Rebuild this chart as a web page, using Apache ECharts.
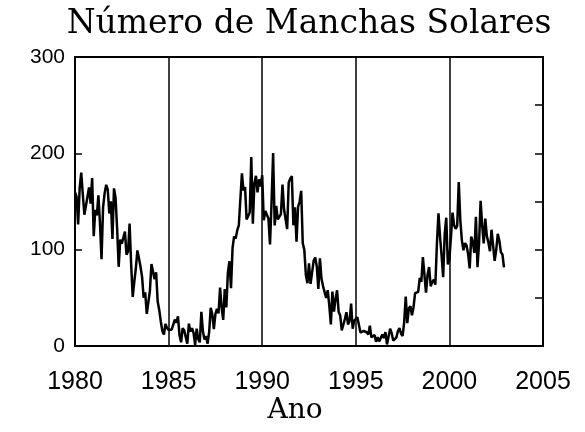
<!DOCTYPE html>
<html>
<head>
<meta charset="utf-8">
<script src="https://cdn.jsdelivr.net/npm/echarts@6/dist/echarts.min.js"></script>
<style>
html,body{margin:0;padding:0;background:#fff;}
#chart{width:585px;height:432px;}
</style>
</head>
<body>
<div id="chart"></div>
<script>
// Monthly sunspot numbers (Jan..Dec)
const ssn1980 = [159.6,155.0,126.2,164.1,179.9,157.3,136.3,135.4,155.0,164.7,147.9,174.4];
const ssn1981 = [114.0,141.3,135.5,156.4,127.5,90.0,143.8,158.7,167.3,162.4,137.5,150.1];
const ssn1982 = [111.2,163.6,153.8,122.0,82.2,110.4,106.1,107.6,118.8,94.7,98.1,127.0];
const ssn1983 = [84.3,51.0,66.5,80.7,99.2,91.1,82.2,71.8,50.3,55.8,33.3,33.4];
const ssn1984 = [57.0,85.1,83.5,69.4,76.4,46.1,37.4,25.5,15.7,12.0,22.8,18.7];
const ssn1985 = [16.5,15.9,17.2,16.2,27.5,24.2,30.7,11.1,3.9,18.6,16.2,17.3];
const ssn1986 = [2.5,23.2,15.1,18.5,13.7,1.1,18.1,7.4,3.8,35.4,15.2,6.8];
const ssn1987 = [10.4,2.4,14.7,39.6,33.0,17.4,33.0,38.7,33.9,60.6,39.9,27.1];
const ssn1988 = [59.0,40.0,76.2,88.0,60.1,101.8,113.8,111.6,120.1,125.1,125.1,179.2];
const ssn1989 = [161.3,165.1,131.4,130.6,138.5,196.2,126.9,168.9,176.7,159.4,173.0,165.5];
const ssn1990 = [177.3,130.5,140.3,140.3,132.2,105.4,149.4,200.3,125.2,145.5,131.4,129.7];
const ssn1991 = [136.9,167.5,141.9,140.0,121.3,169.7,173.7,176.3,125.3,144.1,108.2,144.4];
const ssn1992 = [150.0,161.1,106.7,99.8,73.8,65.2,85.7,64.5,63.9,88.7,91.8,82.6];
const ssn1993 = [59.3,91.0,69.8,62.2,61.3,49.8,57.9,42.2,22.4,56.4,35.6,48.9];
const ssn1994 = [57.8,35.5,31.7,16.1,17.8,28.0,35.1,22.5,25.7,44.0,18.0,26.2];
const ssn1995 = [24.2,29.9,31.1,14.0,14.5,15.6,14.5,14.3,11.8,21.1,9.0,10.0];
const ssn1996 = [11.5,4.4,9.2,4.8,5.5,11.8,8.2,14.4,1.6,0.9,17.9,13.3];
const ssn1997 = [5.7,7.6,8.7,15.5,18.5,12.7,10.4,24.4,51.3,23.8,39.0,41.2];
const ssn1998 = [31.9,40.3,54.8,53.4,56.3,70.7,66.6,92.2,92.9,55.5,74.0,81.9];
const ssn1999 = [62.0,66.3,68.8,63.7,106.4,137.7,113.5,93.7,71.5,116.7,133.2,84.6];
const ssn2000 = [90.1,112.9,138.5,125.5,121.6,124.9,170.1,130.5,109.7,99.4,106.8,104.4];
const ssn2001 = [95.6,80.6,113.5,107.7,96.6,134.0,81.8,106.4,150.7,125.5,106.5,132.2];
const ssn2002 = [114.1,107.4,98.4,120.7,120.8,88.3,99.6,116.4,109.6,97.5,95.0,81.6];

const startYear = 1980;
const yearly = [ssn1980,ssn1981,ssn1982,ssn1983,ssn1984,ssn1985,ssn1986,ssn1987,
  ssn1988,ssn1989,ssn1990,ssn1991,ssn1992,ssn1993,ssn1994,ssn1995,ssn1996,ssn1997,
  ssn1998,ssn1999,ssn2000,ssn2001,ssn2002];

const xTicks = [1980,1985,1990,1995,2000,2005];
const yTicks = [0,100,200,300];

const series = [];
yearly.forEach((arr, yi) => {
  arr.forEach((v, m) => { series.push([startYear + yi + m / 12, v]); });
});

const chart = echarts.init(document.getElementById('chart'), null, {renderer:'canvas'});
chart.setOption({
  animation: false,
  backgroundColor: '#fff',
  title: [
    { text: 'Número de Manchas Solares', left: 304, textAlign: 'center', top: 3,
      textStyle: { fontFamily: 'DejaVu Serif', fontSize: 33, fontWeight: 'normal', color: '#000' } },
    { text: 'Ano', left: 290, textAlign: 'center', top: 392,
      textStyle: { fontFamily: 'DejaVu Serif', fontSize: 28, fontWeight: 'normal', color: '#000' } }
  ],
  grid: { left: 75, right: 42, top: 57, bottom: 86, show: true, borderColor: '#000', borderWidth: 2, backgroundColor: 'transparent' },
  xAxis: {
    type: 'value', min: xTicks[0], max: xTicks[xTicks.length-1], interval: 5,
    axisLine: { show: true, lineStyle: { color: '#000', width: 2 } },
    axisTick: { show: false },
    splitLine: { show: true, lineStyle: { color: '#000', width: 1.5 } },
    axisLabel: { color: '#000', fontFamily: 'Liberation Sans', fontSize: 25, margin: 24,
      formatter: v => String(v) }
  },
  yAxis: [
    { type: 'value', min: yTicks[0], max: yTicks[yTicks.length-1], interval: 100, position: 'left',
      axisLine: { show: true, lineStyle: { color: '#000', width: 2 } },
      axisTick: { show: true, inside: true, length: 7, lineStyle: { color: '#000', width: 1.5 } },
      splitLine: { show: false },
      axisLabel: { color: '#000', fontFamily: 'Liberation Sans', fontSize: 21, margin: 10 } },
    { type: 'value', min: 0, max: 300, interval: 50, position: 'right',
      axisLine: { show: true, lineStyle: { color: '#000', width: 2 } },
      axisTick: { show: true, inside: true, length: 8, lineStyle: { color: '#000', width: 1.5 } },
      splitLine: { show: false },
      axisLabel: { show: false } }
  ],
  series: [{
    type: 'line', data: series, yAxisIndex: 0, showSymbol: false, symbol: 'none',
    lineStyle: { color: '#000', width: 2.5 }, z: 3
  }]
});
</script>
</body>
</html>
